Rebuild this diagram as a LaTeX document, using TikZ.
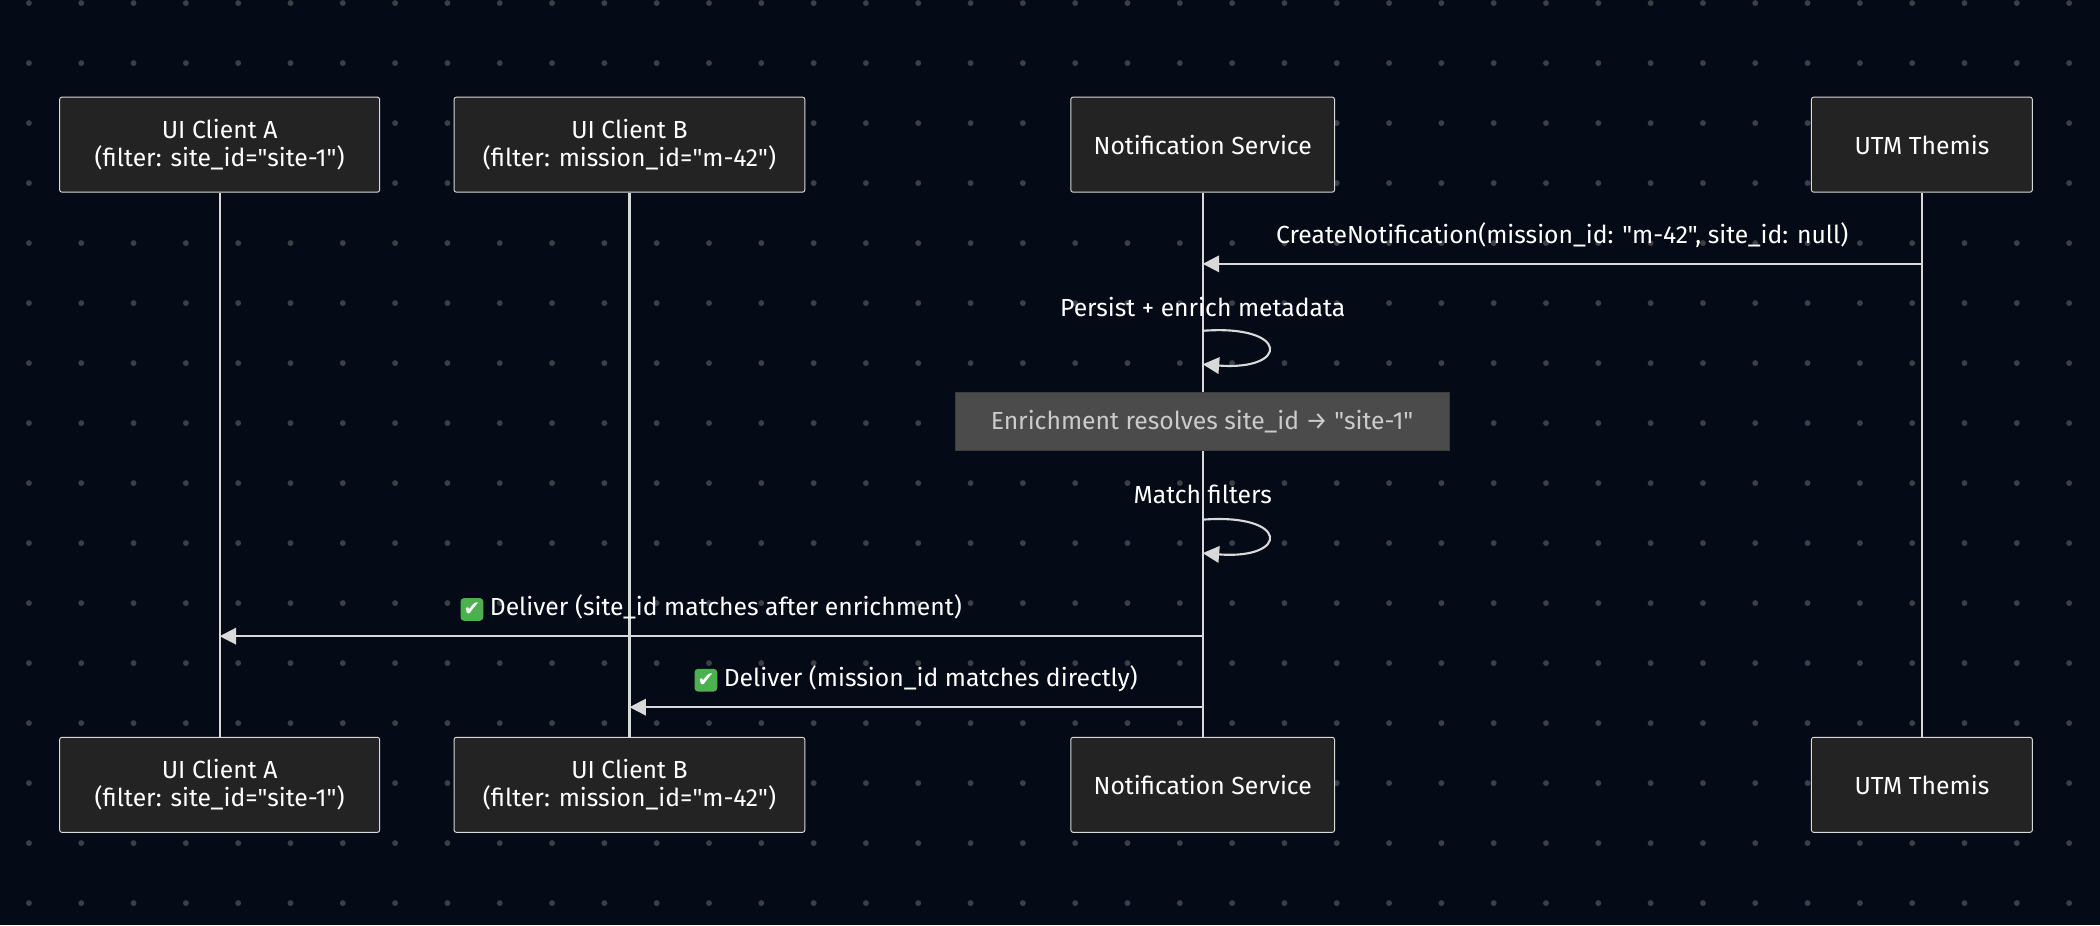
\documentclass[tikz,border=0pt]{standalone}
\usepackage{fontspec}
\setmainfont{Fira Sans}[Ligatures=TeXOff]
\newfontfamily\symfont{DejaVu Sans}
\usetikzlibrary{arrows.meta,positioning}
\definecolor{bgcol}{HTML}{050A17}
\definecolor{boxcol}{HTML}{232323}
\definecolor{linecol}{HTML}{D9D9D9}
\definecolor{notecol}{HTML}{4A4B4A}
\definecolor{chkcol}{HTML}{4CAF50}
\newcommand{\okmark}{\tikz[baseline=(m.base)]\node[fill=chkcol, rounded corners=1.5pt, text=white, inner sep=1pt, minimum size=0.34cm, font=\symfont\bfseries\fontsize{8.5}{9}\selectfont] (m) {✔};}
\tikzset{
  actor/.style={draw=linecol, fill=boxcol, rectangle, rounded corners=1pt, text=white, align=center, minimum height=1.42cm, font=\fontsize{10.5}{12}\selectfont},
  life/.style={draw=linecol, line width=0.9pt},
  msg/.style={draw=linecol, line width=0.9pt, -{Triangle[length=7pt,width=7pt]}},
  lbl/.style={text=white, font=\fontsize{10.5}{12}\selectfont},
  note/.style={draw=notecol!80!black, fill=notecol, text=linecol!85!gray, minimum width=7.38cm, minimum height=0.86cm, font=\fontsize{10.5}{12}\selectfont}
}
\begin{document}
\begin{tikzpicture}[x=0.02cm,y=-0.02cm]
  \fill[bgcol] (0,0) rectangle (1568,691);
  \useasboundingbox (0,0) rectangle (1568,691);
  \foreach \i in {0,...,40} \foreach \j in {0,...,15}
    \fill[gray!45!bgcol] (21.6+39.06*\i, 2.3+44.8*\j) circle (2.2);
  % actors on top
  \node[actor, minimum width=4.78cm] (a) at (164,108) {UI Client A\\(filter: site\_id="site-1")};
  \node[actor, minimum width=5.24cm] (b) at (470,108) {UI Client B\\(filter: mission\_id="m-42")};
  \node[actor, minimum width=3.94cm] (n) at (898,108) {Notification Service};
  \node[actor, minimum width=3.30cm] (u) at (1435,108) {UTM Themis};
  % actors at the bottom
  \node[actor, minimum width=4.78cm] (a2) at (164,586) {UI Client A\\(filter: site\_id="site-1")};
  \node[actor, minimum width=5.24cm] (b2) at (470,586) {UI Client B\\(filter: mission\_id="m-42")};
  \node[actor, minimum width=3.94cm] (n2) at (898,586) {Notification Service};
  \node[actor, minimum width=3.30cm] (u2) at (1435,586) {UTM Themis};
  \path[life] (a) -- (a2);
  \path[life] (b) -- (b2);
  \path[life] (n) -- (n2);
  \path[life] (u) -- (u2);
  % messages
  \coordinate (u1) at (1435,197);
  \coordinate (n1) at (898,197);
  \path[msg] (u1) -- node[lbl, above=3pt] {CreateNotification(mission\_id: "m-42", site\_id: null)} (n1);
  \coordinate (s1) at (898,247);
  \path[msg] (s1) .. controls +(65,-5) and +(65,5) .. +(0,25);
  \node[lbl] (t1) at (898,229) {Persist + enrich metadata};
  \node[note] (nt) at (897.5,314.5) {Enrichment resolves site\_id → "site-1"};
  \coordinate (s2) at (898,388);
  \path[msg] (s2) .. controls +(65,-5) and +(65,5) .. +(0,25);
  \node[lbl] (t2) at (898,369) {Match filters};
  \coordinate (n3) at (898,475);
  \coordinate (a3) at (164,475);
  \path[msg] (n3) -- node[lbl, above=3pt] {\okmark\ Deliver (site\_id matches after enrichment)} (a3);
  \coordinate (n4) at (898,528);
  \coordinate (b4) at (470,528);
  \path[msg] (n4) -- node[lbl, above=3pt] {\okmark\ Deliver (mission\_id matches directly)} (b4);
\end{tikzpicture}
\end{document}
